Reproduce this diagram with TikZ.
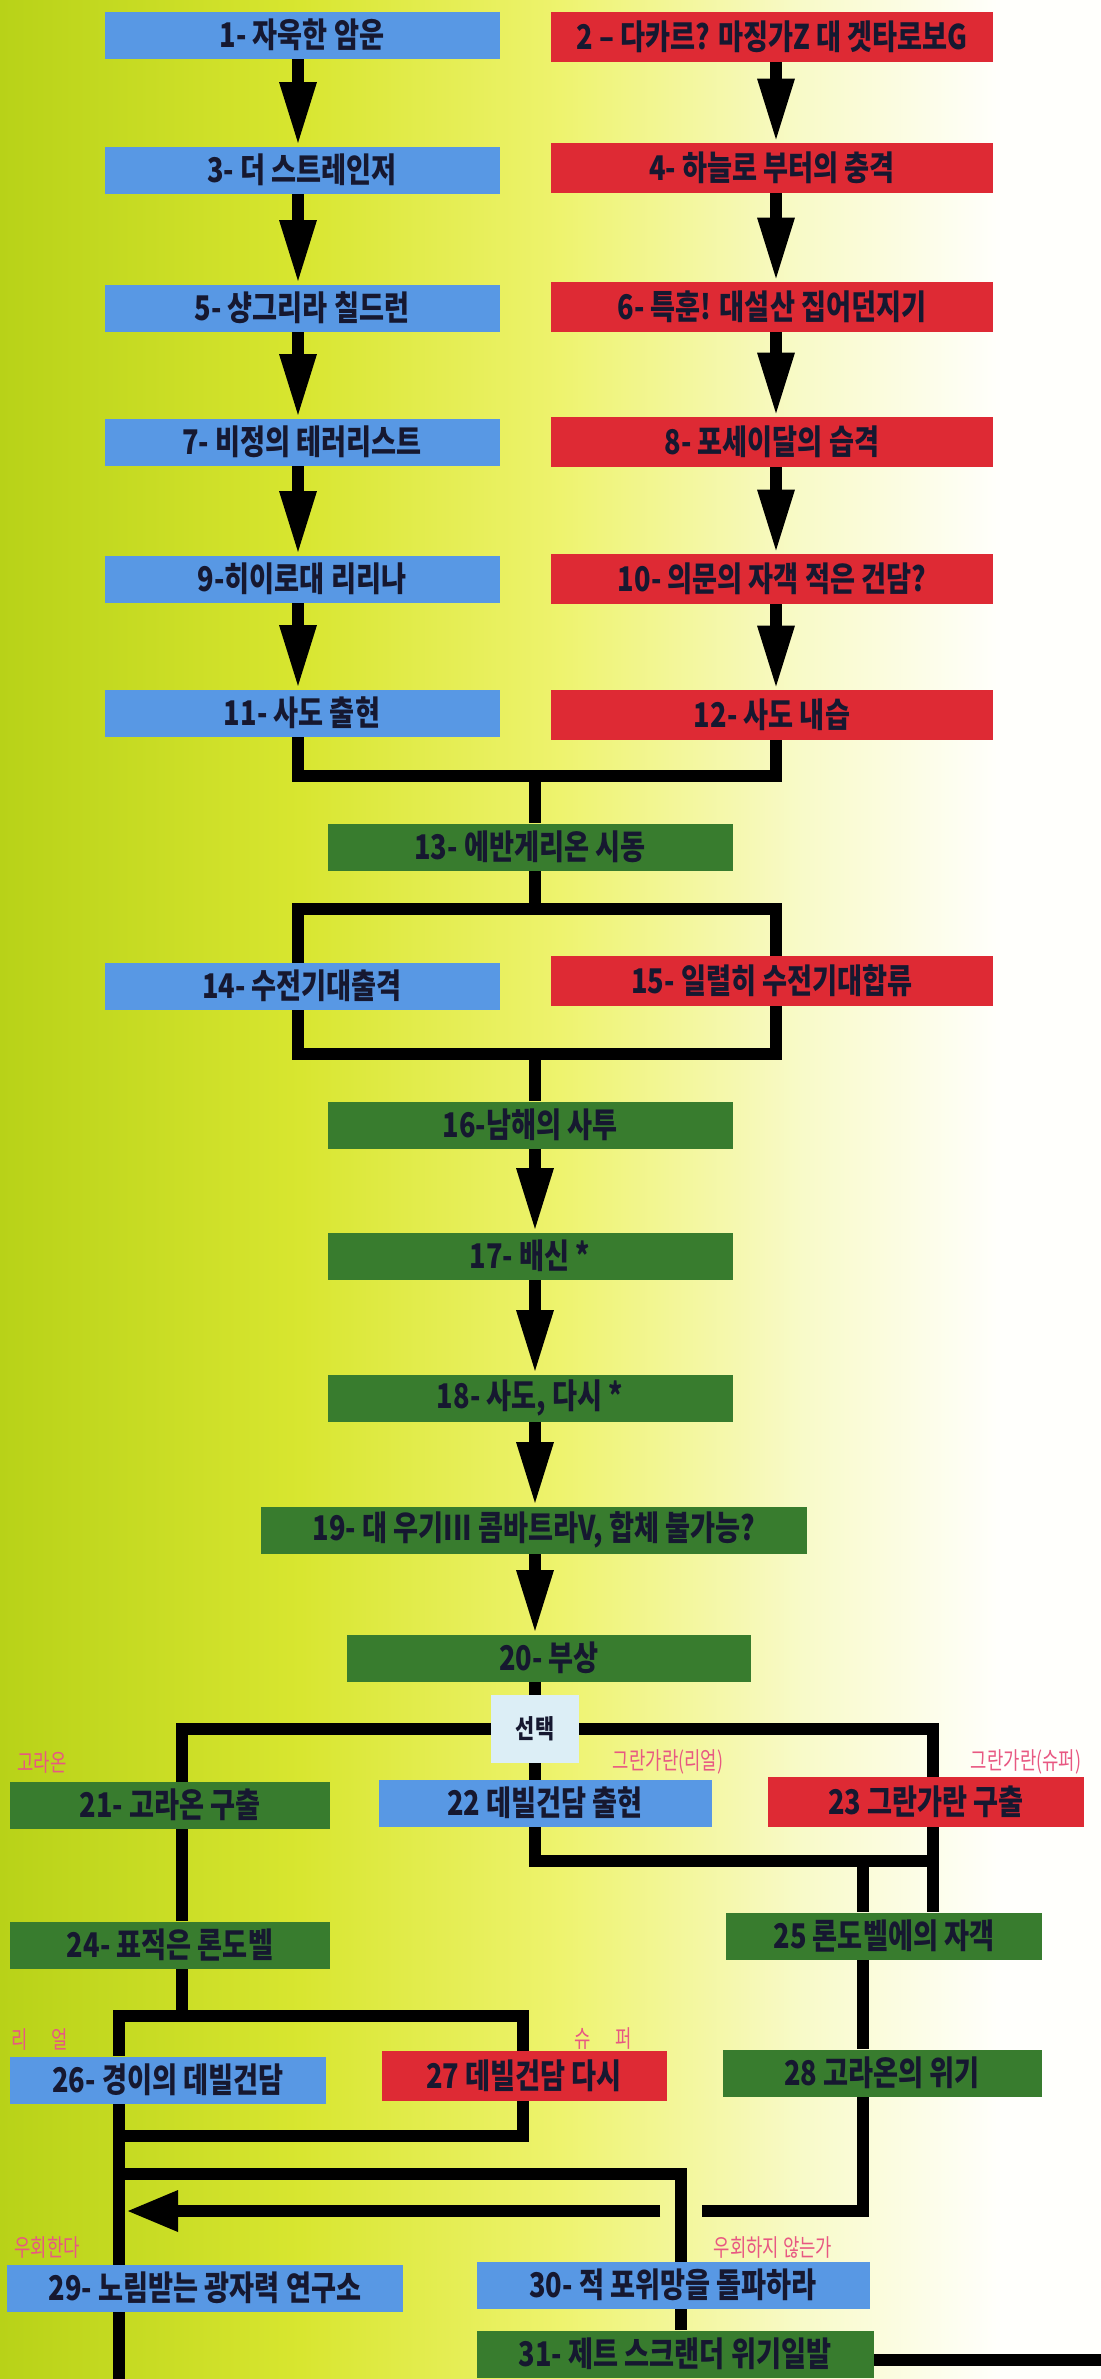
\documentclass[tikz,border=0pt]{standalone}
\usepackage{fontspec}
\newfontfamily\krfont{Noto Sans CJK KR}[FakeStretch=0.8]
\newfontfamily\krnarrow{Noto Sans CJK KR}[FakeStretch=0.74]
\usetikzlibrary{arrows.meta}
\definecolor{realcol}{RGB}{88,152,228}
\definecolor{supercol}{RGB}{222,42,52}
\definecolor{commoncol}{RGB}{56,124,46}
\definecolor{pickcol}{RGB}{220,238,246}
\definecolor{notecol}{RGB}{232,88,130}
\definecolor{inkcol}{RGB}{22,24,48}
\definecolor{bgA}{RGB}{184,210,24}
\definecolor{bgB}{RGB}{216,230,48}
\definecolor{bgC}{RGB}{238,243,110}
\definecolor{bgD}{RGB}{248,250,200}
\definecolor{bgE}{RGB}{255,255,252}
\pgfdeclarelayer{back}
\pgfdeclarelayer{lines}
\pgfsetlayers{back,lines,main}

\begin{document}
\begin{tikzpicture}[x=0.5pt, y=-0.5pt,
  scen/.style={inner sep=0pt, minimum height=23.5pt, text=inkcol,
    font=\krfont\bfseries\fontsize{17}{17}\selectfont},
  real/.style={scen, fill=realcol},
  super/.style={scen, fill=supercol, minimum height=25pt},
  common/.style={scen, fill=commoncol},
  leftw/.style={minimum width=197.5pt},
  rightw/.style={minimum width=221pt},
  midw/.style={minimum width=202.5pt},
  pick/.style={fill=pickcol, inner sep=0pt, minimum width=44pt,
    minimum height=34pt, text=inkcol,
    font=\krfont\bfseries\fontsize{13}{13}\selectfont},
  note/.style={inner sep=0pt, text=notecol,
    font=\krnarrow\fontsize{12}{12}\selectfont},
  lnk/.style={line width=6pt, line join=miter},
  arr/.style={lnk, -{Triangle[length=32pt, width=17pt]}},
  arrw/.style={lnk, -{Triangle[length=26pt, width=19pt]}}
]

  % Page and background
  \useasboundingbox (0,0) rectangle (1100,2379);
  \begin{pgfonlayer}{back}
    \shade[left color=bgA, right color=bgB] (0,0) rectangle (301,2379);
    \shade[left color=bgB, right color=bgC] (300,0) rectangle (561,2379);
    \shade[left color=bgC, right color=bgD] (560,0) rectangle (801,2379);
    \shade[left color=bgD, right color=bgE] (800,0) rectangle (1001,2379);
    \fill[bgE] (1000,0) rectangle (1100,2379);
  \end{pgfonlayer}

  % Column and junction points
  \coordinate (colL) at (298,0);
  \coordinate (colR) at (776,0);
  \coordinate (ctr) at (535,0);
  \coordinate (cL) at (182,0);
  \coordinate (cR) at (933,0);
  \coordinate (c25) at (863,0);
  \coordinate (dL) at (119,0);
  \coordinate (d27) at (523,0);
  \coordinate (d31) at (681,0);
  \coordinate (J1) at (535,776);
  \coordinate (J2) at (535,909);
  \coordinate (J3) at (535,1054);
  \coordinate (J4) at (535,1861);
  \coordinate (J5) at (182,2016);
  \coordinate (J6) at (119,2136);
  \coordinate (J7) at (119,2174);
  \coordinate (gapR) at (702,2211);
  \coordinate (gapL) at (660,2211);
  \coordinate (J8) at (126,2211);
  \coordinate (foot) at (119,2395);
  \coordinate (exitR) at (1110,2360);

  % Real / super routes
  \node[real, leftw] (b1) at (302,35) {1- 자욱한 암운};
  \node[super, rightw] (b2) at (772,37) {2 – 다카르? 마징가Z 대 겟타로보G};
  \node[real, leftw] (b3) at (302,170) {3- 더 스트레인저};
  \node[super, rightw] (b4) at (772,168) {4- 하늘로 부터의 충격};
  \node[real, leftw] (b5) at (302,308) {5- 샹그리라 칠드런};
  \node[super, rightw] (b6) at (772,307) {6- 특훈! 대설산 집어던지기};
  \node[real, leftw] (b7) at (302,442) {7- 비정의 테러리스트};
  \node[super, rightw] (b8) at (772,442) {8- 포세이달의 습격};
  \node[real, leftw] (b9) at (302,579) {9-히이로대 리리나};
  \node[super, rightw] (b10) at (772,579) {10- 의문의 자객 적은 건담?};
  \node[real, leftw] (b11) at (302,713) {11- 사도 출현};
  \node[super, rightw] (b12) at (772,715) {12- 사도 내습};

  % Common part
  \node[common, midw] (b13) at (530,847) {13- 에반게리온 시동};
  \node[real, leftw] (b14) at (302,986) {14- 수전기대출격};
  \node[super, rightw] (b15) at (772,981) {15- 일렬히 수전기대합류};
  \node[common, midw] (b16) at (530,1125) {16-남해의 사투};
  \node[common, midw] (b17) at (530,1256) {17- 배신 *};
  \node[common, midw] (b18) at (530,1398) {18- 사도, 다시 *};
  \node[common, minimum width=273pt] (b19) at (534,1530)
    {19- 대 우기III 콤바트라V, 합체 불가능?};
  \node[common, minimum width=202pt] (b20) at (549,1658) {20- 부상};
  \node[pick] (pk) at (535,1729) {선택};

  % Branches
  \node[common, minimum width=160pt] (b21) at (170,1805) {21- 고라온 구출};
  \node[real, minimum width=166.5pt] (b22) at (545,1803) {22 데빌건담 출현};
  \node[super, minimum width=158pt] (b23) at (926,1802) {23 그란가란 구출};
  \node[common, minimum width=160pt] (b24) at (170,1945) {24- 표적은 론도벨};
  \node[common, minimum width=158pt] (b25) at (884,1936) {25 론도벨에의 자객};
  \node[real, minimum width=158pt] (b26) at (168,2080) {26- 경이의 데빌건담};
  \node[super, minimum width=142.5pt] (b27) at (524,2076) {27 데빌건담 다시};
  \node[common, minimum width=159.5pt] (b28) at (882,2073) {28 고라온의 위기};
  \node[real, minimum width=198pt] (b29) at (205,2288) {29- 노림받는 광자력 연구소};
  \node[real, minimum width=196.5pt] (b30) at (673,2285) {30- 적 포위망을 돌파하라};
  \node[common, minimum width=198.5pt] (b31) at (675,2354) {31- 제트 스크랜더 위기일발};

  % Route notes
  \node[note] (n21) at (42,1762) {고라온};
  \node[note] (n22) at (668,1762) {그란가란(리얼)};
  \node[note] (n23) at (1026,1762) {그란가란(슈퍼)};
  \node[note] (n26) at (40,2039) {리\quad 얼};
  \node[note] (n27) at (603,2039) {슈\quad 퍼};
  \node[note] (n29) at (47,2247) {우회한다};
  \node[note] (n30) at (773,2247) {우회하지 않는가};

  \begin{pgfonlayer}{lines}
    % Arrows down the two columns
    \foreach \src/\dst in {b1/b3, b3/b5, b5/b7, b7/b9, b9/b11}
      \draw[arr] (\src.south -| colL) -- (\dst.north -| colL);
    \foreach \src/\dst in {b2/b4, b4/b6, b6/b8, b8/b10, b10/b12}
      \draw[arr] (\src.south -| colR) -- (\dst.north -| colR);

    % Merge into 13, split 14/15, merge into 16
    \draw[lnk] (b11.south -| colL) |- (J1 -| colR) -- (b12.south -| colR);
    \draw[lnk] (J1) -- (b13.north -| J1);
    \draw[lnk] (b13.south -| J2) -- (J2);
    \draw[lnk] (J2 -| colL) rectangle (J3 -| colR);
    \draw[lnk] (J3) -- (b16.north -| J3);

    \foreach \src/\dst in {b16/b17, b17/b18, b18/b19, b19/b20}
      \draw[arr] (\src.south -| ctr) -- (\dst.north -| ctr);

    % Choice
    \draw[lnk] (b20.south -| pk) -- (pk.north);
    \draw[lnk] (b24.north -| cL) |- (pk.center) -| (b25.north -| cR);
    \draw[lnk] (pk.south) |- (J4 -| cR);
    \draw[lnk] (J4 -| c25) -- (b25.north -| c25);
    \draw[lnk] (b25.south -| c25) -- (b28.north -| c25);

    % Lower part
    \draw[lnk] (b24.south -| cL) -- (J5);
    \draw[lnk] (b26.north -| dL) |- (J5 -| d27) -- (b27.north -| d27);
    \draw[lnk] (b26.south -| dL) -- (foot);
    \draw[lnk] (b27.south -| d27) |- (J6);
    \draw[lnk] (J7) -| (b31.north -| d31);
    \draw[lnk] (b28.south -| c25) |- (gapR);
    \draw[arrw] (gapL) -- (J8);
    \draw[lnk] (b31.east |- exitR) -- (exitR);
  \end{pgfonlayer}

\end{tikzpicture}
\end{document}
